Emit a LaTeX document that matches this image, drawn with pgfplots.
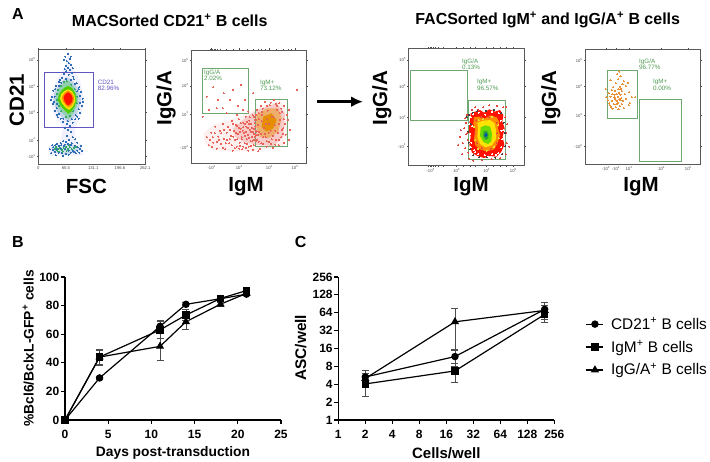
\documentclass[border=0pt]{standalone}
\usepackage{fontspec}
\setmainfont{Liberation Sans}
\usepackage{pgfplots}
\pgfplotsset{compat=1.18}
\usetikzlibrary{arrows.meta}
\newcommand\fpx[1]{\fontsize{#1}{#1}\selectfont}
\newcommand\tp[1]{10\textsuperscript{#1}}
\newcommand\tn[1]{-10\textsuperscript{#1}}
\definecolor{gategreen}{HTML}{6FA870}
\definecolor{gatetext}{HTML}{4E9A50}
\definecolor{gateblue}{HTML}{5F55C0}
\definecolor{dotblue}{HTML}{2F6DB5}
\definecolor{dotgreen}{HTML}{35A86A}
\definecolor{dotyellow}{HTML}{E8DC3A}
\definecolor{dotred}{HTML}{E4483C}
\definecolor{dotorange}{HTML}{E8923A}
\pgfplotsset{
  flow/.style={
    scale only axis, y dir=reverse, clip=true,
    axis line style={draw=black!65,line width=.8pt},
    tick style={draw=black!70,line width=.4pt},
    tick align=outside, major tick length=1.5pt,
    tick label style={font=\fpx{4.2},text=black!70,inner sep=1pt},
    xlabel style={font=\fpx{20.5}\bfseries,anchor=center},
    ylabel style={font=\fpx{20.5}\bfseries,anchor=center},
  },
  dots/.style={only marks,mark=*,mark size=.45pt,mark options={draw=#1,fill=#1,line width=0pt}},
  blob/.style={fill=#1,draw=none,mark=none},
  graph/.style={
    scale only axis, width=216pt, height=143pt, clip=false,
    axis lines=left, axis line style={-,line width=1.2pt},
    tick style={draw=black,line width=1.2pt},
    tick align=outside, major tick length=4pt, minor tick length=0pt,
    /pgf/number format/assume math mode=true,
    tick label style={font=\fpx{12}\bfseries,inner sep=1.5pt},
    xticklabel style={text height=8.6pt,text depth=0pt,yshift=-4pt},
    xlabel style={anchor=center}, ylabel style={anchor=center},
  },
  circ/.style={black,line width=1.2pt,mark=*,mark size=3.1pt,mark options={solid,fill=black}},
  squa/.style={black,line width=1.2pt,mark=square*,mark size=3pt,mark options={solid,fill=black}},
  tria/.style={black,line width=1.2pt,mark=triangle*,mark size=3.6pt,mark options={solid,fill=black}},
  ebar/.style={error bars/.cd,y dir=both,y explicit,
    error bar style={black!70,line width=.8pt},error mark options={black!70,line width=.8pt,mark size=3.5pt,rotate=90}},
}
\begin{document}
\begin{tikzpicture}[x=1pt,y=1pt]
\useasboundingbox (0,0) rectangle (710,462);

% panel letters and titles
\node[font=\fpx{16}\bfseries] at (18,448) {A};
\node[font=\fpx{16}\bfseries] at (18,220) {B};
\node[font=\fpx{16}\bfseries] at (300.7,220) {C};
\node[font=\fpx{16}\bfseries] at (169.7,442) {MACSorted CD21\textsuperscript{+} B cells};
\node[font=\fpx{16}\bfseries] at (547.7,442) {FACSorted IgM\textsuperscript{+} and IgG/A\textsuperscript{+} B cells};
\draw[line width=2.6pt,-{Latex[length=12pt,width=11pt]}] (317,360.3) -- (363,360.3);

% CD21 vs FSC
\begin{axis}[flow,at={(38.3pt,298pt)},anchor=south west,width=107pt,height=114.7pt,
  xmin=115,xmax=436,ymin=148,ymax=492,
  xtick={115,198,280,360,436},xticklabels={0,65.5,131.1,196.6,262.1},
  ytick={180,260,338,420,470},yticklabels={\tp5,\tp4,\tp3,\tp2,\tn1},
  xlabel={FSC},ylabel={CD21},
  xlabel style={at={(axis description cs:.449,-.2)}},
  ylabel style={at={(axis description cs:-.2,.558)}}]
\addplot[blob={blue!6}] coordinates {(205,155)(215,200)(240,240)(250,290)(245,340)(225,385)(225,420)(245,435)(250,465)(150,468)(145,440)(180,425)(190,385)(160,340)(150,290)(170,240)(195,200)} --cycle;
\addplot[blob={dotblue!30}] coordinates {(200,232)(212,238)(222,248)(232,262)(240,280)(243,300)(238,322)(232,340)(222,352)(212,362)(203,368)(194,358)(182,348)(172,336)(165,318)(160,298)(163,278)(172,262)(182,248)(192,238)} --cycle;
\addplot[blob={dotgreen!55}] coordinates {(203,240)(214,250)(225,265)(233,285)(235,305)(228,325)(220,340)(212,352)(204,358)(195,346)(184,336)(174,322)(167,302)(168,282)(178,264)(190,250)} --cycle;
\addplot[blob={green!60!yellow!80!black}] coordinates {(204,258)(216,264)(226,280)(230,300)(224,320)(214,335)(205,342)(195,332)(182,318)(174,302)(176,284)(186,270)(196,262)} --cycle;
\addplot[blob={yellow!85!orange}] coordinates {(205,268)(216,274)(224,288)(226,304)(218,320)(207,330)(196,322)(186,310)(180,296)(184,282)(194,273)} --cycle;
\addplot[blob={orange!90!yellow}] coordinates {(205,272)(216,280)(222,292)(221,306)(213,318)(205,322)(196,314)(189,304)(186,294)(190,284)(197,276)} --cycle;
\addplot[blob={red!85!orange}] coordinates {(205,277)(214,284)(218,294)(217,305)(210,313)(203,316)(196,308)(192,298)(192,288)(198,281)} --cycle;
\addplot[blob={dotblue!25}] coordinates {(155,445)(170,436)(185,441)(200,431)(220,434)(242,444)(235,453)(215,459)(195,465)(175,461)(160,457)} --cycle;
\addplot[dots=dotgreen] coordinates {(168,440)(174,446)(180,443)(186,449)(172,452)(192,445)(198,440)(204,446)(210,442)(216,448)(222,444)(178,456)(200,452)(188,455)(208,436)(164,447)(228,440)
(170,282)(174,270)(182,258)(192,246)(172,300)(176,318)(184,334)(198,350)(210,348)(220,334)(230,310)(232,290)(224,268)(214,254)(200,244)};
\addplot[dots=dotblue] coordinates {(204,162)(196,170)(210,176)(200,184)(206,190)(213,195)(197,198)(204,204)(210,210)(199,214)(216,218)(191,222)(206,224)(220,230)(186,234)(176,246)(230,250)(168,258)(238,262)(160,272)(244,276)(156,290)(248,296)(158,312)(246,318)(165,332)(240,338)(172,345)(232,350)(182,356)(226,358)(190,366)(218,368)(200,372)(210,378)(196,384)(205,390)(212,396)(200,408)(218,412)(226,418)(207,420)(190,424)(182,430)(232,428)(172,432)(157,436)(244,438)(150,448)(246,452)(154,460)(168,466)(188,468)(206,464)(228,460)(238,458)(212,170)(192,180)(218,205)(194,208)(222,238)(180,240)(152,300)(250,306)(236,356)(174,352)(215,430)(198,425)
(166,268)(164,290)(162,305)(170,325)(178,342)(190,356)(204,364)(216,358)(228,346)(236,328)(240,308)(241,288)(236,268)(226,252)(212,240)(198,236)(184,248)(176,258)(170,312)(232,274)
(160,442)(166,436)(176,438)(184,436)(194,434)(204,432)(214,435)(224,437)(234,442)(240,447)(232,452)(222,456)(212,458)(198,462)(186,460)(176,458)(164,456)(158,450)(170,448)(182,446)(196,448)(206,452)(218,452)(192,438)};
\draw[gateblue,line width=.7pt] (axis cs:133,217) rectangle (axis cs:280,382);
\node[anchor=north west,font=\fpx{6.3},text=gateblue,align=left,inner sep=0pt] at (axis cs:293,240) {CD21\\82.96\%};
\end{axis}

% IgG/A vs IgM, CD21+
\begin{axis}[flow,at={(191.3pt,299pt)},anchor=south west,width=114.7pt,height=113pt,
  xmin=574,xmax=918,ymin=150,ymax=489,
  xtick={635,718,808,885},xticklabels={\tn2,\tp3,\tp4,\tp5},
  ytick={182,258,342,442},yticklabels={\tp5,\tp4,\tp3,\tn2},
  minor xtick={632,637,642,647,652,660,680,700,742,760,775,785,795,830,850,865,875},
  minor tick length=1pt,
  xlabel={IgM},ylabel={IgG/A},
  xlabel style={at={(axis description cs:.477,-.212)}},
  ylabel style={at={(axis description cs:-.22,.575)}}]
\addplot[blob={dotred!8}] coordinates {(610,400)(640,375)(690,360)(730,345)(770,325)(840,300)(860,330)(862,400)(850,440)(780,450)(700,455)(640,450)(615,430)} --cycle;
\addplot[blob={dotred!28}] coordinates {(700,385)(735,355)(770,330)(830,310)(855,340)(850,410)(820,438)(770,435)(730,425)(705,410)} --cycle;
\addplot[blob={dotorange!75}] coordinates {(770,345)(800,325)(835,325)(845,355)(835,395)(805,415)(780,410)(768,380)} --cycle;
\addplot[blob={orange!75!yellow!90!black}] coordinates {(790,350)(815,340)(830,360)(820,385)(800,395)(785,380)} --cycle;
\addplot[dots=dotred!85] coordinates {(620,290)(640,262)(655,300)(668,325)(690,300)(700,270)(722,255)(735,300)(650,325)(628,330)(672,280)(715,318)(730,330)(890,270)(760,280)(745,335)(680,340)(710,345)(608,350)
(620,412)(626,436)(634,398)(640,428)(646,380)(650,446)(655,410)(660,392)(664,432)(668,372)(672,416)(676,448)(680,398)(684,380)(688,430)(692,408)(696,362)(698,452)(702,392)(705,420)(708,374)(710,440)(714,402)(717,358)(719,428)(722,386)(725,412)(727,448)(730,368)(732,398)(735,430)(737,350)(739,380)(741,418)(744,404)(746,440)(748,362)(750,390)(752,424)(754,372)(756,410)(758,346)(760,396)(762,436)(764,360)(766,380)(766,412)(763,402)(765,352)(768,392)(764,370)(767,424)(768,345)(762,386)
(772,330)(776,358)(778,396)(782,318)(784,430)(787,345)(790,412)(794,306)(797,372)(800,424)(803,332)(806,398)(810,316)(812,432)(815,350)(818,408)(822,300)(825,376)(828,420)(831,330)(834,398)(838,310)(841,360)(844,412)(847,336)(850,385)(853,318)(855,372)(857,404)(860,345)(852,428)(836,436)(820,444)(800,440)(780,446)(770,420)(774,404)(785,364)(792,384)(802,358)(808,372)(822,352)(826,392)(840,340)(846,390)(836,372)(812,392)(796,402)(788,326)(828,312)(775,375)
(722,370)(728,392)(734,408)(742,366)(748,414)(756,384)(744,384)(750,352)(735,372)(726,418)(758,422)(742,432)(716,384)(708,398)(700,410)(690,390)(678,430)(664,400)(652,426)(638,412)(630,420)(695,436)(705,445)(718,446)(730,440)(745,452)(760,450)(775,454)(868,330)(870,390)(866,420)(864,360)
(712,378)(720,396)(730,382)(738,396)(746,372)(754,396)(762,350)(768,360)(764,410)(768,405)(762,420)(770,395)(776,425)(782,402)(790,432)(798,412)(808,426)(816,418)(826,434)(838,420)(848,402)(852,358)(844,326)(832,318)(812,308)(800,318)(786,336)(776,340)(682,420)(672,390)(658,420)(644,400)(636,440)(668,444)(690,418)(712,418)(700,372)(720,438)(738,444)(752,438)};
\draw[gategreen,line width=.7pt] (axis cs:607,204) rectangle (axis cs:746,341) (axis cs:767,298) rectangle (axis cs:862,439);
\node[anchor=north west,font=\fpx{6.3},text=gatetext,align=left,inner sep=0pt] at (axis cs:612,209) {IgG/A\\2.02\%};
\node[anchor=north west,font=\fpx{6.3},text=gatetext,align=left,inner sep=0pt] at (axis cs:780,240) {IgM+\\73.12\%};
\end{axis}

% IgG/A vs IgM, IgM+ sort
\begin{axis}[flow,at={(408.7pt,296.3pt)},anchor=south west,width=115.3pt,height=117.4pt,
  xmin=206,xmax=552,ymin=145,ymax=497,
  xtick={272,350,440,520},xticklabels={\tn3,\tp3,\tp4,\tp5},
  ytick={180,260,352,438},yticklabels={\tp5,\tp4,\tp2,\tn1},
  minor xtick={265,270,275,280,285,295,310,370,390,405,460,480,500},
  minor tick length=1pt,
  xlabel={IgM},ylabel={IgG/A},
  xlabel style={at={(axis description cs:.54,-.18)}},
  ylabel style={at={(axis description cs:-.232,.577)}}]
\addplot[blob={red!85!orange}] coordinates {(392,340)(405,335)(420,330)(432,338)(448,328)(465,335)(480,330)(490,345)(487,365)(494,385)(488,410)(493,435)(484,455)(470,470)(450,468)(432,474)(412,468)(396,458)(388,435)(392,410)(384,385)(390,360)} --cycle;
\addplot[blob={orange!90!yellow}] coordinates {(402,352)(420,350)(434,356)(452,346)(470,352)(478,366)(474,385)(480,405)(472,432)(462,448)(440,454)(420,448)(406,436)(402,415)(406,390)(400,370)} --cycle;
\addplot[blob={yellow!85!orange}] coordinates {(412,368)(430,362)(450,360)(464,370)(468,392)(468,418)(456,436)(436,442)(420,432)(412,412)(414,385)} --cycle;
\addplot[blob={green!50!yellow!85!black}] coordinates {(422,382)(436,376)(450,380)(456,400)(454,424)(444,432)(430,426)(420,408)} --cycle;
\addplot[blob={green!55!black!80}] coordinates {(430,394)(440,392)(446,402)(444,416)(436,420)(430,410)} --cycle;
\addplot[blob={teal!60!blue}] coordinates {(434,402)(440,399)(442,407)(437,411)(433,408)} --cycle;
\addplot[dots=white] coordinates {(392,352)(396,378)(390,402)(394,428)(402,450)(414,462)(434,466)(456,462)(474,460)(484,442)(486,418)(484,392)(482,362)(476,340)(456,336)(436,344)(416,338)(400,342)(406,456)(444,470)(468,464)(490,390)(388,372)(392,442)};
\addplot[dots=dotred] coordinates {(360,410)(368,430)(372,384)(375,355)(378,368)(362,390)(380,345)(383,420)(376,445)(366,462)(354,436)(385,458)(388,476)(400,482)(425,480)(455,478)(480,474)(497,462)(500,430)(498,400)(502,372)(496,352)(498,322)(490,322)(470,318)(448,316)(430,322)(415,330)(395,330)(405,322)(508,440)(382,400)(378,402)
(408,360)(404,400)(410,430)(425,444)(452,446)(470,430)(472,400)(470,368)(446,352)(424,352)};
\addplot[dots=black!75] coordinates {(388,345)(392,372)(385,395)(386,428)(390,448)(400,466)(418,472)(440,472)(466,473)(486,462)(495,438)(495,398)(491,368)(484,340)(462,330)(438,332)(412,334)(398,338)(380,352)};
\addplot[dots=dotyellow] coordinates {(402,380)(406,420)(414,446)(440,452)(462,440)(476,415)(474,376)(456,350)(430,358)(416,360)};
\draw[gategreen,line width=.7pt] (axis cs:210,210) rectangle (axis cs:381,361) (axis cs:385,301) rectangle (axis cs:496,478);
\node[anchor=north west,font=\fpx{6.3},text=gatetext,align=left,inner sep=0pt] at (axis cs:366,176) {IgG/A\\0.13\%};
\node[anchor=north west,font=\fpx{6.3},text=gatetext,align=left,inner sep=0pt] at (axis cs:411,238) {IgM+\\96.57\%};
\end{axis}

% IgG/A vs IgM, IgG/A+ sort
\begin{axis}[flow,at={(585.3pt,298pt)},anchor=south west,width=114.7pt,height=114.3pt,
  xmin=736,xmax=1080,ymin=149,ymax=492,
  xtick={798,828,867,965,1045},xticklabels={\tn3,\tn2,\tp3,\tp4,\tp5},
  ytick={181,260,345,440},yticklabels={\tp5,\tp4,\tp3,\tn2},
  minor xtick={802,806,812,818,835,842,850,880,900,920,940,985,1005,1025},
  minor tick length=1pt,
  xlabel={IgM},ylabel={IgG/A},
  xlabel style={at={(axis description cs:.486,-.2)}},
  ylabel style={at={(axis description cs:-.3,.577)}}]
\addplot[dots=dotorange,mark size=.65pt] coordinates {(838,214)(832,222)(842,228)(812,240)(835,238)(864,248)(828,250)(848,252)(820,262)(840,260)(858,258)(798,268)(826,272)(836,268)(846,274)(806,280)(818,282)(830,282)(842,284)(854,282)(868,276)(812,290)(824,292)(834,290)(844,294)(858,296)(876,292)(886,292)(804,300)(816,302)(828,300)(838,298)(850,302)(808,310)(822,312)(834,308)(846,312)(870,310)(814,320)(828,322)(840,318)(852,324)(866,316)(836,328)(818,326)(826,296)(832,304)(838,278)(824,284)(844,266)(852,244)(816,270)(800,292)(842,300)(830,312)(810,316)};
\draw[gategreen,line width=.7pt] (axis cs:803,210) rectangle (axis cs:893,356) (axis cs:898,298) rectangle (axis cs:1025,484);
\node[anchor=north west,font=\fpx{6.3},text=gatetext,align=left,inner sep=0pt] at (axis cs:897,176) {IgG/A\\96.77\%};
\node[anchor=north west,font=\fpx{6.3},text=gatetext,align=left,inner sep=0pt] at (axis cs:939,238) {IgM+\\0.00\%};
\end{axis}

% B: transduction time course
\begin{axis}[graph,at={(65pt,42pt)},anchor=south west,
  xmin=0,xmax=25,ymin=0,ymax=100,
  xtick={0,5,...,25},ytick={0,20,...,100},
  xlabel={Days post-transduction},
  ylabel={\%Bcl6/BclxL-GFP\textsuperscript{+} cells},
  xlabel style={font=\fpx{13.8}\bfseries,at={(axis description cs:.5,-.228)}},
  ylabel style={font=\fpx{13.8}\bfseries,at={(axis description cs:-.17,.5)}}]
\addplot[tria,ebar] coordinates {(0,0) +- (0,0) (4,44) +- (0,5) (11,51.5) +- (0,10) (14,68.7) +- (0,5) (18,81) +- (0,1.5) (21,88.5) +- (0,1)};
\addplot[circ,ebar] coordinates {(0,0) +- (0,0) (4,29.4) +- (0,1) (11,65.5) +- (0,4) (14,80.9) +- (0,1) (18,84.8) +- (0,1) (21,88) +- (0,1)};
\addplot[squa,ebar] coordinates {(0,0) +- (0,0) (4,44) +- (0,5.5) (11,63) +- (0,6) (14,73.4) +- (0,4) (18,85) +- (0,2) (21,90.5) +- (0,1)};
\end{axis}

% C: ASC per well
\begin{axis}[graph,at={(338.3pt,42pt)},anchor=south west,
  xmode=log,ymode=log,log basis x=2,log basis y=2,
  xmin=1,xmax=256,ymin=1,ymax=256,
  xtick={1,2,4,8,16,32,64,128,256},xticklabels={1,2,4,8,16,32,64,128,256},
  ytick={1,2,4,8,16,32,64,128,256},yticklabels={1,2,4,8,16,32,64,128,256},
  xlabel={Cells/well},ylabel={ASC/well},
  xlabel style={font=\fpx{15}\bfseries,at={(axis description cs:.5,-.229)}},
  ylabel style={font=\fpx{15.4}\bfseries,at={(axis description cs:-.174,.505)}},
  legend style={at={(1.145,.51)},anchor=west,draw=none,fill=none,font=\fpx{15.4},
    row sep=6pt,inner sep=0pt,/tikz/every odd column/.append style={column sep=5pt}},
  legend cell align=left]
\addlegendimage{circ}\addlegendentry{CD21\textsuperscript{+} B cells}
\addlegendimage{squa}\addlegendentry{IgM\textsuperscript{+} B cells}
\addlegendimage{tria}\addlegendentry{IgG/A\textsuperscript{+} B cells}
\addplot[tria,forget plot,ebar] coordinates {(2,5) +- (0,1.2) (20,45) +- (0,30) (200,70) +- (0,26)};
\addplot[squa,forget plot,ebar] coordinates {(2,4.05) +- (0,1.55) (20,6.7) +- (0,2.4) (200,60) +- (0,10)};
\addplot[circ,forget plot,ebar] coordinates {(2,5.3) +- (0,1.6) (20,11.7) +- (0,3.8) (200,73) +- (0,12)};
\end{axis}
\end{tikzpicture}
\end{document}
